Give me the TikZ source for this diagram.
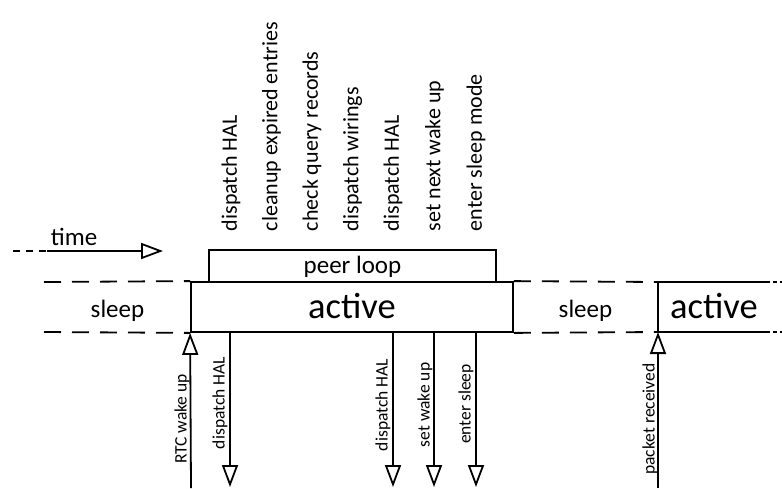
\documentclass[tikz,border=0pt]{standalone}
\usepackage{fontspec}
\setmainfont{Carlito}
\usetikzlibrary{arrows.meta}
\begin{document}
\begin{tikzpicture}[x=1pt,y=-1pt,
  line width=1.8pt,
  phase/.style={draw,line width=1.8pt,inner sep=0pt},
  bigfont/.style={font=\fontsize{36.5}{40}\selectfont},
  midfont/.style={font=\fontsize{25}{30}\selectfont},
  stepfont/.style={font=\fontsize{22}{26}\selectfont},
  eventfont/.style={font=\fontsize{17.5}{21}\selectfont},
  steplabel/.style={stepfont,rotate=90,anchor=west,inner sep=0pt},
  eventlabel/.style={eventfont,rotate=90,anchor=center,inner sep=0pt},
  longdash/.style={dash pattern=on 17pt off 11pt},
  shortdash/.style={dash pattern=on 7pt off 6pt},
  tinydash/.style={dash pattern=on 4pt off 3pt},
  openhead/.style={-{Triangle[open,length=22pt,width=16pt,fill=white]}}
]
\useasboundingbox (0,0) rectangle (782,488);

% time axis
\coordinate (t0) at (13,251);
\coordinate (t1) at (47,251);
\coordinate (t2) at (163,251);
\draw[shortdash] (t0) -- (t1);
\draw[openhead] (t1) -- (t2);
\node[midfont,anchor=base west,inner sep=0pt] (timelbl) at (50,245) {time};

% phase boxes
\node[phase,minimum width=322pt,minimum height=50pt,bigfont,
      text height=22pt,text depth=0pt] (active) at (352,307) {active};
\node[phase,minimum width=287pt,minimum height=32pt,midfont,
      text height=14pt,text depth=0pt] (peer) at (352.5,266) {peer loop};

% sleep boundaries
\coordinate (lt) at (44,282);
\coordinate (lb) at (44,332);
\draw[longdash] (lt) -- (active.north west);
\draw[longdash] (lb) -- (active.south west);
\node[midfont,anchor=base,inner sep=0pt] (sleepA) at (117.5,317) {sleep};

\coordinate (rt) at (658,282);
\coordinate (rb) at (658,332);
\draw[longdash] (active.north east) -- (rt);
\draw[longdash] (active.south east) -- (rb);
\node[midfont,anchor=base,inner sep=0pt] (sleepB) at (585.5,317) {sleep};

% second active phase, continuing to the right
\coordinate (et) at (766,282);
\coordinate (eb) at (766,332);
\coordinate (ft) at (782,282);
\coordinate (fb) at (782,332);
\draw (et) -- (rt) -- (rb) -- (eb);
\draw[tinydash] (et) -- (ft);
\draw[tinydash] (eb) -- (fb);
\node[bigfont,anchor=base,inner sep=0pt] (activeB) at (714,318) {active};

% peer loop steps
\node[steplabel] (s1) at (231,232) {dispatch HAL};
\node[steplabel] (s2) at (271.5,232) {cleanup expired entries};
\node[steplabel] (s3) at (312,232) {check query records};
\node[steplabel] (s4) at (352.5,232) {dispatch wirings};
\node[steplabel] (s5) at (393,232) {dispatch HAL};
\node[steplabel] (s6) at (434.5,232) {set next wake up};
\node[steplabel] (s7) at (476,232) {enter sleep mode};

% incoming events
\coordinate (rtcfoot) at (191,488);
\draw[openhead] (rtcfoot) -- (active.south west);
\node[eventlabel] (rtclbl) at (182,419) {RTC wake up};

\coordinate (pkfoot) at (658,488);
\draw[openhead] (pkfoot) -- (rb);
\node[eventlabel] (pklbl) at (650,419) {packet received};

% outgoing calls
\coordinate (o1a) at (230,332);  \coordinate (o1b) at (230,487);
\coordinate (o2a) at (393,332);  \coordinate (o2b) at (393,487);
\coordinate (o3a) at (434,332);  \coordinate (o3b) at (434,487);
\coordinate (o4a) at (476,332);  \coordinate (o4b) at (476,487);
\draw[openhead] (o1a) -- (o1b);
\draw[openhead] (o2a) -- (o2b);
\draw[openhead] (o3a) -- (o3b);
\draw[openhead] (o4a) -- (o4b);
\node[eventlabel] (o1lbl) at (220,403) {dispatch HAL};
\node[eventlabel] (o2lbl) at (383,405) {dispatch HAL};
\node[eventlabel] (o3lbl) at (425,405) {set wake up};
\node[eventlabel] (o4lbl) at (466,404) {enter sleep};
\end{tikzpicture}
\end{document}
